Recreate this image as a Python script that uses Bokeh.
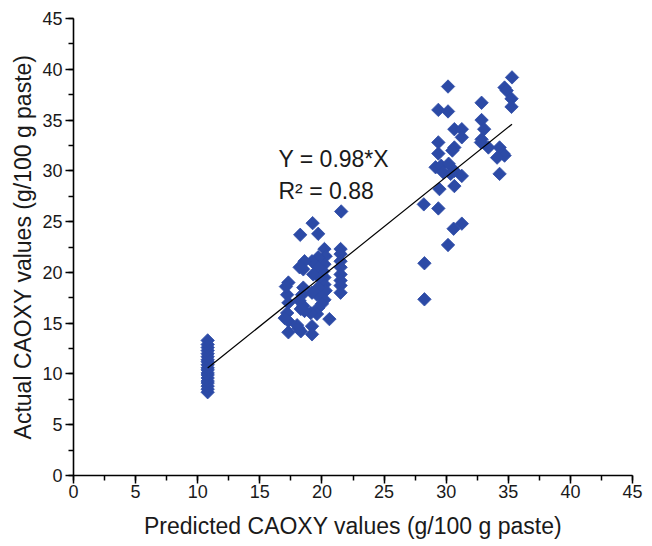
from bokeh.plotting import figure
from bokeh.models import Label, SingleIntervalTicker, ColumnDataSource
from bokeh.embed import file_html
from bokeh.resources import INLINE
import numpy as np

# ---- data ----
low_x = [10.8] * 19
low_y = [8.2, 8.5, 8.8, 9.1, 9.3, 9.6, 9.9, 10.1, 10.4, 10.6, 10.9, 11.2,
         11.4, 11.7, 12.0, 12.3, 12.6, 12.9, 13.3]

mid_x = [21.55, 19.25, 18.25, 19.7,
         21.5, 21.5, 21.5, 21.5, 21.5, 21.5, 21.5, 21.5,
         20.2, 20.3, 20.2, 20.1, 20.2, 20.2, 20.3, 20.2, 20.0, 20.6,
         19.7, 19.7, 19.8, 19.7, 19.6, 19.7, 19.6,
         19.2, 19.3, 19.2, 19.1, 19.2, 19.2,
         18.6, 18.5, 18.5, 18.4, 18.5, 18.6,
         18.2, 18.2, 18.3, 18.1, 18.3,
         17.3, 17.2, 17.3, 17.2, 17.3, 17.3,
         17.1, 17.0, 18.0]
mid_y = [26.0, 24.85, 23.7, 23.8,
         22.3, 21.8, 21.1, 20.5, 19.8, 19.2, 18.7, 18.0,
         22.3, 21.6, 20.8, 20.1, 19.5, 18.8, 18.2, 17.3, 16.9, 15.4,
         21.5, 20.5, 19.5, 18.5, 17.8, 16.5, 15.9,
         21.1, 19.8, 18.0, 16.0, 14.7, 13.9,
         21.1, 20.3, 18.5, 17.8, 16.7, 16.2,
         20.5, 17.2, 16.4, 14.5, 14.2,
         19.0, 17.8, 17.0, 16.0, 15.2, 14.1,
         18.6, 15.5, 14.8]

high_x = [30.15, 29.37, 30.15, 32.85, 35.3, 34.7, 34.87, 35.26, 35.26, 32.85,
          30.66, 31.26, 33.06, 31.26, 32.85, 33.4, 32.8, 34.3, 34.6, 34.7,
          34.1, 34.3, 29.37, 30.66, 30.5, 29.37, 29.15, 29.6, 30.2, 29.76,
          30.66, 31.26, 30.36, 29.46, 30.66, 28.2, 29.37, 31.26, 30.6, 30.15,
          28.25, 28.25]
high_y = [38.3, 36.0, 35.85, 36.7, 39.2, 38.2, 37.9, 37.1, 36.3, 35.0,
          34.1, 34.1, 34.1, 33.3, 33.1, 32.3, 32.8, 32.3, 31.7, 31.5,
          31.3, 29.7, 32.8, 32.3, 32.0, 31.7, 30.35, 30.5, 30.7, 29.85,
          30.0, 29.5, 29.7, 28.2, 28.5, 26.7, 26.3, 24.8, 24.3, 22.7,
          20.9, 17.35]

slope = 0.98
eq_text = "Y = 0.98*X"
r2_text = "R\u00b2 = 0.88"
x_title = "Predicted CAOXY values (g/100 g paste)"
y_title = "Actual CAOXY values (g/100 g paste)"

xs = low_x + mid_x + high_x
ys = low_y + mid_y + high_y

FONT = "Liberation Sans"
TXT = "#1a1a1a"
BLUE = "#2c4aa6"

p = figure(width=648, height=542, x_range=(0, 45), y_range=(0, 45),
           output_backend="svg", toolbar_location=None,
           min_border_left=73, min_border_right=16, min_border_top=18,
           min_border_bottom=67)
p.outline_line_color = None
p.xgrid.visible = False
p.ygrid.visible = False
p.background_fill_color = "white"

for ax in (p.xaxis[0], p.yaxis[0]):
    ax.ticker = SingleIntervalTicker(interval=5, num_minor_ticks=2)
    ax.axis_line_width = 1.6
    ax.axis_line_color = "black"
    ax.major_tick_line_width = 1.5
    ax.minor_tick_line_width = 1.5
    ax.major_tick_line_color = "black"
    ax.minor_tick_line_color = "black"
    ax.major_tick_in = 0
    ax.major_tick_out = 8
    ax.minor_tick_in = 0
    ax.minor_tick_out = 5
    ax.major_label_text_font = FONT
    ax.major_label_text_font_size = "18px"
    ax.major_label_text_color = TXT
    ax.axis_label_text_font = FONT
    ax.axis_label_text_font_size = "23px"
    ax.axis_label_text_font_style = "normal"
    ax.axis_label_text_color = TXT

p.xaxis.axis_label = x_title
p.yaxis.axis_label = y_title
p.xaxis.major_label_standoff = 1
p.xaxis.axis_label_standoff = 12
p.yaxis.major_label_standoff = 3
p.yaxis.axis_label_standoff = 3

src = ColumnDataSource(dict(x=xs, y=ys))
p.scatter("x", "y", source=src, marker="square", angle=np.pi / 4,
          size=9.5, fill_color=BLUE, line_color=BLUE, line_width=0.8)

lx = [min(xs), max(xs)]
ly = [slope * v for v in lx]
p.line(lx, ly, line_color="black", line_width=1.2)

p.add_layout(Label(x=16.5, y=31.2, text=eq_text, text_font=FONT,
                   text_font_size="23px", text_color=TXT,
                   text_baseline="alphabetic"))
p.add_layout(Label(x=16.5, y=28.05, text=r2_text, text_font=FONT,
                   text_font_size="23px", text_color=TXT,
                   text_baseline="alphabetic"))

open("out.html", "w").write(file_html(p, INLINE))
